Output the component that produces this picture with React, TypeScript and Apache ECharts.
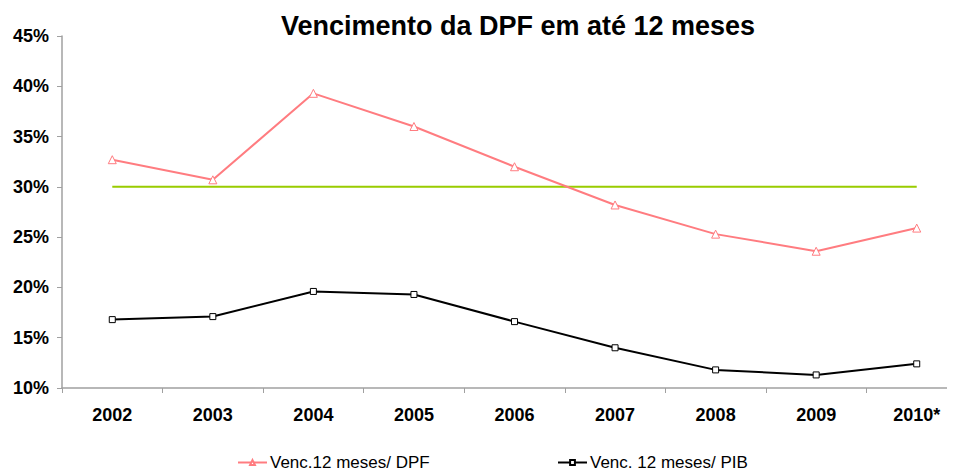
import React, { useEffect, useRef } from "react";
import * as echarts from "echarts";

const categories = ["2002", "2003", "2004", "2005", "2006", "2007", "2008", "2009", "2010*"];
const vencDPF = [32.7, 30.7, 39.3, 36.0, 32.0, 28.2, 25.3, 23.6, 25.9];
const vencPIB = [16.8, 17.1, 19.6, 19.3, 16.6, 14.0, 11.8, 11.3, 12.4];
const limite = [30, 30, 30, 30, 30, 30, 30, 30, 30];
const titleText = "Vencimento da DPF em até 12 meses";
const nameDPF = "Venc.12 meses/ DPF";
const namePIB = "Venc. 12 meses/ PIB";

const FONT = "'Liberation Sans', Arial, sans-serif";

export default function App() {
  const ref = useRef<HTMLDivElement>(null);
  useEffect(() => {
    const chart = echarts.init(ref.current!, null, { renderer: "svg" });
    chart.setOption({
      animation: false,
      backgroundColor: "#ffffff",
      title: {
        text: titleText,
        left: 513,
        textAlign: "center",
        top: 7,
        textStyle: { fontFamily: FONT, fontSize: 27, fontWeight: "bold", color: "#000" },
      },
      legend: [
        {
          data: [nameDPF],
          left: 232,
          top: 449,
          itemWidth: 29,
          itemHeight: 6,
          itemGap: 6,
          textStyle: { fontFamily: FONT, fontSize: 17, color: "#000", padding: [0, 0, 0, -2] },
        },
        {
          data: [namePIB],
          left: 552,
          top: 449,
          itemWidth: 29,
          itemHeight: 6,
          itemGap: 6,
          textStyle: { fontFamily: FONT, fontSize: 17, color: "#000", padding: [0, 0, 0, -2] },
        },
      ],
      grid: { left: 62, top: 36, width: 905, height: 352, containLabel: false },
      xAxis: {
        type: "category",
        data: categories,
        boundaryGap: true,
        axisLine: { lineStyle: { color: "#a0a0a0", width: 1.5 } },
        axisTick: { show: true, length: 5, inside: false, lineStyle: { color: "#a0a0a0" } },
        axisLabel: { fontFamily: FONT, fontSize: 18, fontWeight: "bold", color: "#000", margin: 18 },
        splitLine: { show: false },
      },
      yAxis: {
        type: "value",
        min: 10,
        max: 45,
        interval: 5,
        axisLine: { show: true, lineStyle: { color: "#a0a0a0", width: 1.5 } },
        axisTick: { show: true, length: 5, lineStyle: { color: "#a0a0a0" } },
        axisLabel: {
          fontFamily: FONT,
          fontSize: 18,
          fontWeight: "bold",
          color: "#000",
          margin: 13,
          formatter: "{value}%",
        },
        splitLine: { show: false },
      },
      series: [
        {
          name: nameDPF,
          type: "line",
          data: vencDPF,
          symbol: "triangle",
          symbolSize: 8,
          showAllSymbol: true,
          lineStyle: { color: "#ff7c80", width: 2 },
          itemStyle: { color: "#ffffff", borderColor: "#ff7c80", borderWidth: 1 },
          z: 3,
        },
        {
          name: namePIB,
          type: "line",
          data: vencPIB,
          symbol: "rect",
          symbolSize: 6,
          showAllSymbol: true,
          lineStyle: { color: "#000000", width: 2 },
          itemStyle: { color: "#ffffff", borderColor: "#000000", borderWidth: 1 },
          z: 3,
        },
        {
          name: "Limite",
          type: "line",
          data: limite,
          symbol: "none",
          lineStyle: { color: "#99cc00", width: 2 },
          z: 2,
        },
      ],
    });
    return () => chart.dispose();
  }, []);
  return (
    <div style={{ width: 955, height: 473, overflow: "hidden", marginLeft: -8, marginTop: -8, position: "relative" }}>
      <div ref={ref} style={{ width: 985, height: 473 }} />
    </div>
  );
}
